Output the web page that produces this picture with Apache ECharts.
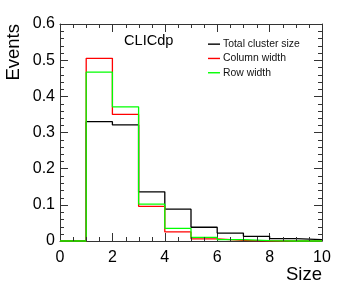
<!DOCTYPE html>
<html>
<head>
<meta charset="utf-8">
<script src="https://cdn.jsdelivr.net/npm/echarts@6/dist/echarts.min.js"></script>
<style>html,body{margin:0;padding:0;background:#fff}#c{width:349px;height:295px}</style>
</head>
<body>
<div id="c"></div>
<script>
// Bin lower edges (bin width 1), values per bin
const binEdges = [0, 1, 2, 3, 4, 5, 6, 7, 8, 9];
const binUpper = 10;
const totalClusterSize = [0, 0.330, 0.321, 0.136, 0.088, 0.038, 0.022, 0.013, 0.0065, 0.004];
const columnWidth      = [0, 0.505, 0.350, 0.096, 0.025, 0.006, 0.002, 0.0005, 0, 0];
const rowWidth         = [0, 0.467, 0.371, 0.102, 0.035, 0.010, 0.004, 0.001, 0, 0];
const seriesNames = ['Total cluster size', 'Column width', 'Row width'];
const xTicks = [0, 2, 4, 6, 8, 10];
const yTicks = [0, 0.1, 0.2, 0.3, 0.4, 0.5, 0.6];
const xMinorTicks = [0.5, 1, 1.5, 2.5, 3, 3.5, 4.5, 5, 5.5, 6.5, 7, 7.5, 8.5, 9, 9.5];
const yMinorTicks = [0.02, 0.04, 0.06, 0.08, 0.12, 0.14, 0.16, 0.18, 0.22, 0.24, 0.26, 0.28,
                     0.32, 0.34, 0.36, 0.38, 0.42, 0.44, 0.46, 0.48, 0.52, 0.54, 0.56, 0.58];

function histData(vals) {
  const d = binEdges.map((e, i) => [e, vals[i]]);
  d.push([binUpper, vals[vals.length - 1]]);
  return d;
}

const FONT = 'Liberation Sans';
const axisCol = '#333';
const chart = echarts.init(document.getElementById('c'), null, {renderer: 'canvas'});

const xMin = xTicks[0], xMax = xTicks[xTicks.length - 1];
const yMin = yTicks[0], yMax = yTicks[yTicks.length - 1];

const xBase = {
  type: 'value', min: xMin, max: xMax, interval: 2,
  axisLine: {show: true, onZero: false, lineStyle: {color: axisCol, width: 1}},
  axisTick: {show: true, inside: true, length: 8, lineStyle: {color: axisCol}},
  splitLine: {show: false}
};
const yBase = {
  type: 'value', min: yMin, max: yMax, interval: 0.1,
  axisLine: {show: true, onZero: false, lineStyle: {color: axisCol, width: 1}},
  axisTick: {show: true, inside: true, length: 8, lineStyle: {color: axisCol}},
  splitLine: {show: false}
};

const colors = ['#000000', '#ff0000', '#00ff00'];
const datasets = [totalClusterSize, columnWidth, rowWidth];

const lineSeries = seriesNames.map((n, i) => ({
  name: n, type: 'line', step: 'end', symbol: 'none',
  xAxisIndex: 0, yAxisIndex: 0,
  data: histData(datasets[i]),
  lineStyle: {color: colors[i], width: 1.3},
  itemStyle: {color: colors[i]},
  clip: false, z: 3
}));

const textGraphics = [
  {type: 'text', x: 124, y: 41, style: {text: 'CLICdp', font: '14.6px "Liberation Sans"', fill: '#000', verticalAlign: 'middle'}},
  {type: 'text', x: 322, y: 275, style: {text: 'Size', font: '18.5px "Liberation Sans"', fill: '#000', align: 'right', verticalAlign: 'middle'}},
  {type: 'text', x: 14, y: 24, rotation: Math.PI / 2, style: {text: 'Events', font: '18.5px "Liberation Sans"', fill: '#000', align: 'right', verticalAlign: 'middle'}}
];

chart.setOption({
  animation: false,
  backgroundColor: '#fff',
  grid: {left: 60, right: 27, top: 24, bottom: 54, containLabel: false},
  xAxis: [
    Object.assign({}, xBase, {position: 'bottom',
      axisLabel: {show: true, margin: 9, fontFamily: FONT, fontSize: 16, color: '#000',
        formatter: v => String(v)}}),
    Object.assign({}, xBase, {position: 'top', axisLabel: {show: false}})
  ],
  yAxis: [
    Object.assign({}, yBase, {position: 'left',
      axisLabel: {show: true, margin: 5, fontFamily: FONT, fontSize: 16, color: '#000',
        formatter: v => (v === 0 ? '0' : v.toFixed(1))}}),
    Object.assign({}, yBase, {position: 'right', axisLabel: {show: false}})
  ],
  legend: {
    orient: 'vertical', left: 203, top: 32, itemGap: 0, padding: 5,
    itemWidth: 12, itemHeight: 1.4,
    icon: 'rect',
    data: seriesNames,
    textStyle: {fontFamily: FONT, fontSize: 10.4, color: '#111', lineHeight: 14.3, padding: [0, 0, 0, -2]}
  },
  graphic: textGraphics,
  series: lineSeries
});

// Minor ticks, positioned through the chart's own axis scales
const MINOR_LEN = 4;
const minorEls = [];
const st = {stroke: axisCol, lineWidth: 1};
xMinorTicks.forEach(v => {
  const b = chart.convertToPixel({xAxisIndex: 0, yAxisIndex: 0}, [v, yMin]);
  const t = chart.convertToPixel({xAxisIndex: 0, yAxisIndex: 0}, [v, yMax]);
  const xb = Math.round(b[0]) + 0.5;
  minorEls.push({type: 'line', silent: true, z: 10, shape: {x1: xb, y1: b[1], x2: xb, y2: b[1] - MINOR_LEN}, style: Object.assign({}, st)});
  minorEls.push({type: 'line', silent: true, z: 10, shape: {x1: xb, y1: t[1], x2: xb, y2: t[1] + MINOR_LEN}, style: Object.assign({}, st)});
});
yMinorTicks.forEach(v => {
  const l = chart.convertToPixel({xAxisIndex: 0, yAxisIndex: 0}, [xMin, v]);
  const r = chart.convertToPixel({xAxisIndex: 0, yAxisIndex: 0}, [xMax, v]);
  const yy = Math.round(l[1]) + 0.5;
  minorEls.push({type: 'line', silent: true, z: 10, shape: {x1: l[0], y1: yy, x2: l[0] + MINOR_LEN, y2: yy}, style: Object.assign({}, st)});
  minorEls.push({type: 'line', silent: true, z: 10, shape: {x1: r[0], y1: yy, x2: r[0] - MINOR_LEN, y2: yy}, style: Object.assign({}, st)});
});
chart.setOption({graphic: textGraphics.concat(minorEls)});
</script>
</body>
</html>
